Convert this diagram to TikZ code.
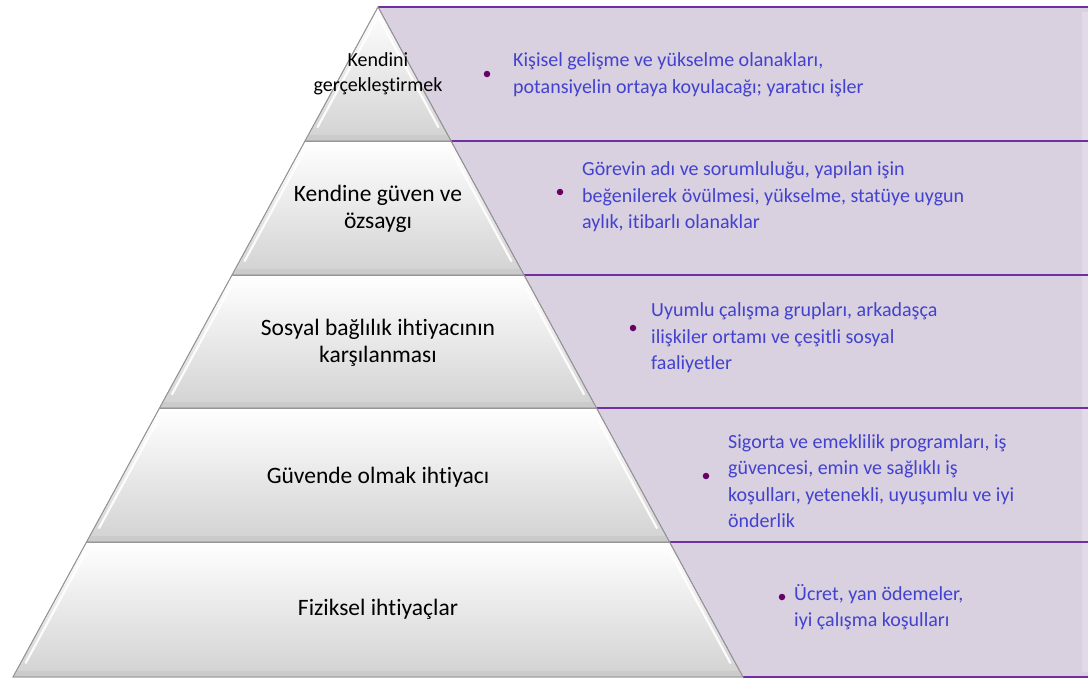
\documentclass[tikz,border=0pt]{standalone}
\usepackage{fontspec}
\setmainfont{Carlito}[Ligatures=NoCommon]
\usetikzlibrary{calc}
\definecolor{bandfill}{RGB}{217,208,224}
\definecolor{bandline}{RGB}{112,48,160}
\definecolor{itemtext}{RGB}{66,66,206}
\definecolor{bulletc}{RGB}{102,0,102}
\definecolor{tierbottom}{RGB}{210,210,210}
\definecolor{tieredge}{RGB}{150,150,150}
\tikzset{
  tier/.style={top color=white, bottom color=tierbottom, draw=tieredge, line width=0.8pt},
  tierlabel/.style={align=center, text=black, font=\fontsize{23.5}{27}\selectfont},
  band/.style={fill=bandfill},
  bandedge/.style={draw=bandline, line width=1.6pt},
  banddiag/.style={draw=bandline, line width=0.6pt},
  itemtext/.style={anchor=west, align=left, text=itemtext, inner sep=0pt, font=\fontsize{20}{26.5}\selectfont},
  dot/.style={circle, fill=bulletc, inner sep=0pt, minimum size=6.5pt}
}
\begin{document}
\begin{tikzpicture}[x=1pt, y=-1pt]
\useasboundingbox (0,0) rectangle (1088,680);
% level heights and pyramid edges
\coordinate (A)  at (378,7);
\coordinate (L1) at (305.0,141);  \coordinate (R1) at (451.0,141);
\coordinate (L2) at (232.0,275);  \coordinate (R2) at (524.0,275);
\coordinate (L3) at (159.5,408);  \coordinate (R3) at (596.5,408);
\coordinate (L4) at (86.5,542);   \coordinate (R4) at (669.5,542);
\coordinate (L5) at (13.0,677);   \coordinate (R5) at (743.0,677);
\coordinate (E0) at (1088,7);
\coordinate (E1) at (1088,141);
\coordinate (E2) at (1088,275);
\coordinate (E3) at (1088,408);
\coordinate (E4) at (1088,542);
\coordinate (E5) at (1088,677);

% right-hand bands
\path[band] (A) -- (E0) -- (E5) -- (R5) -- cycle;
\fill[white, opacity=0.25] (1082,12) rectangle (1088,672);
\foreach \p/\q in {A/E0,R1/E1,R2/E2,R3/E3,R4/E4,R5/E5}{
  \draw[bandedge] (\p) -- (\q);
}
\draw[banddiag] (A) -- (R5);

% pyramid tiers
\shade[tier] (A) -- (R1) -- (L1) -- cycle;
\shade[tier] (L1) -- (R1) -- (R2) -- (L2) -- cycle;
\shade[tier] (L2) -- (R2) -- (R3) -- (L3) -- cycle;
\shade[tier] (L3) -- (R3) -- (R4) -- (L4) -- cycle;
\shade[tier] (L4) -- (R4) -- (R5) -- (L5) -- cycle;
% bevel highlights and bottom rims
\foreach \t/\b/\tl/\tr/\bl/\br in {
  7/141/378/378/305.0/451.0,
  141/275/305.0/451.0/232.0/524.0,
  275/408/232.0/524.0/159.5/596.5,
  408/542/159.5/596.5/86.5/669.5,
  542/677/86.5/669.5/13.0/743.0}{
  \fill[gray!45, opacity=0.6] (\bl+3,\b-6) -- (\br-3,\b-6) -- (\br-1,\b-1) -- (\bl+1,\b-1) -- cycle;
  \draw[white, line width=2.2pt, opacity=0.9] ($(\tl,\t)!0.08!(\bl,\b)+(5,0)$) -- ($(\tl,\t)!0.9!(\bl,\b)+(5,0)$);
  \draw[white, line width=2.2pt, opacity=0.9] ($(\tr,\t)!0.08!(\br,\b)+(-5,0)$) -- ($(\tr,\t)!0.9!(\br,\b)+(-5,0)$);
}
\foreach \p/\q in {L1/R1,L2/R2,L3/R3,L4/R4}{
  \draw[tieredge, line width=0.8pt] (\p) -- (\q);
}
\draw[tieredge, line width=0.8pt] (A) -- (L5) -- (R5) -- cycle;

% tier labels
\node[tierlabel, font=\fontsize{20}{25}\selectfont] (t1) at (378,74) {Kendini\\gerçekleştirmek};
\node[tierlabel] (t2) at (378,209) {Kendine güven ve\\özsaygı};
\node[tierlabel] (t3) at (378,343) {Sosyal bağlılık ihtiyacının\\karşılanması};
\node[tierlabel] (t4) at (378,477) {Güvende olmak ihtiyacı};
\node[tierlabel] (t5) at (378,609) {Fiziksel ihtiyaçlar};

% bullets and descriptions
\node[dot] (b1) at (487,74) {};
\node[itemtext] (d1) at (513,75) {Kişisel gelişme ve yükselme olanakları,\\potansiyelin ortaya koyulacağı; yaratıcı işler};
\node[dot] (b2) at (560,192) {};
\node[itemtext] (d2) at (582,197) {Görevin adı ve sorumluluğu, yapılan işin\\beğenilerek övülmesi, yükselme, statüye uygun\\aylık, itibarlı olanaklar};
\node[dot] (b3) at (633,328) {};
\node[itemtext] (d3) at (651,338) {Uyumlu çalışma grupları, arkadaşça\\ilişkiler ortamı ve çeşitli sosyal\\faaliyetler};
\node[dot] (b4) at (706,476) {};
\node[itemtext] (d4) at (728,481) {Sigorta ve emeklilik programları, iş\\güvencesi, emin ve sağlıklı iş\\koşulları, yetenekli, uyuşumlu ve iyi\\önderlik};
\node[dot] (b5) at (782,597) {};
\node[itemtext] (d5) at (794,607) {Ücret, yan ödemeler,\\iyi çalışma koşulları};
\end{tikzpicture}
\end{document}
